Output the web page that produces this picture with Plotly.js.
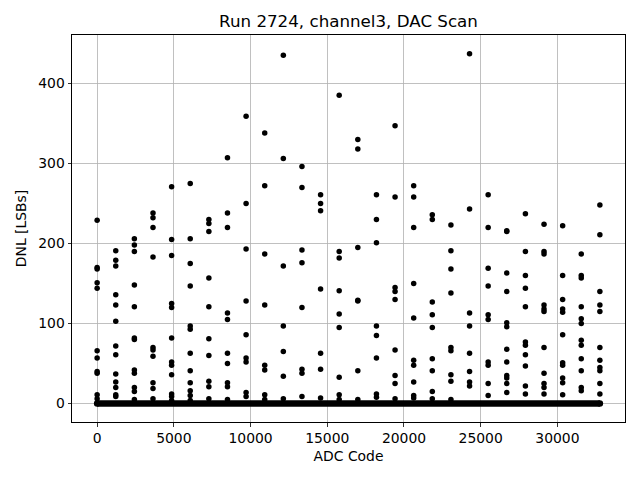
<!DOCTYPE html>
<html>
<head>
<meta charset="utf-8">
<script src="https://cdn.plot.ly/plotly-3.0.1.min.js"></script>
<style>html,body{margin:0;padding:0;background:#fff;}#chart{width:640px;height:480px;}</style>
</head>
<body>
<div id="chart"></div>
<script>
// ADC codes where the DAC scan steps land
const columnCodes = [0, 1214, 2427, 3641, 4855, 6068, 7282, 8495, 9709, 10923, 12136, 13350, 14564, 15777,
  16991, 18205, 19418, 20632, 21845, 23059, 24273, 25486, 26700, 27914, 29127, 30341, 31554, 32767];

// DNL values (LSBs) read at each of those codes
const dnlAtColumn = [
  [229, 170, 168, 151, 144, 66, 57, 40, 38, 11, 6],
  [191, 179, 172, 136, 123, 103, 72, 61, 37, 27, 20, 11, 9],
  [206, 198, 190, 148, 121, 82, 80, 42, 38, 20, 15, 5],
  [238, 232, 220, 183, 70, 67, 59, 26, 19, 6],
  [271, 205, 185, 125, 120, 82, 52, 48, 36, 12, 9, 4],
  [275, 206, 175, 147, 97, 93, 63, 41, 26, 16, 10, 4],
  [230, 225, 215, 157, 121, 81, 60, 28, 21, 6],
  [307, 238, 220, 113, 105, 63, 50, 26, 21, 5],
  [359, 250, 193, 128, 86, 57, 52, 14, 9],
  [338, 272, 187, 123, 48, 42, 11, 5],
  [435, 306, 172, 97, 65, 34, 6],
  [296, 270, 192, 176, 120, 43, 38, 9],
  [261, 250, 241, 143, 63, 43, 7],
  [385, 190, 182, 141, 112, 95, 33, 11, 5],
  [330, 318, 195, 129, 128, 41, 5],
  [261, 230, 201, 97, 85, 57, 12, 8],
  [347, 258, 145, 140, 130, 67, 35, 25, 6],
  [272, 258, 220, 150, 107, 54, 48, 27, 10, 7],
  [236, 230, 127, 111, 95, 56, 41, 15, 6],
  [223, 191, 168, 138, 70, 66, 36, 28, 5],
  [437, 243, 113, 97, 63, 40, 27, 22],
  [261, 220, 169, 147, 111, 105, 52, 48, 25, 10],
  [216, 215, 163, 140, 101, 96, 68, 52, 35, 32, 25, 14],
  [237, 190, 160, 144, 121, 77, 73, 61, 47, 22, 12],
  [224, 190, 187, 123, 118, 115, 70, 38, 25, 20, 12],
  [222, 160, 130, 118, 114, 86, 51, 48, 32, 26, 11],
  [187, 160, 157, 121, 106, 100, 79, 73, 56, 41, 20, 16],
  [248, 211, 140, 123, 115, 70, 54, 45, 41, 25, 12]
];

// All remaining codes sit at DNL = 0 (dense baseline)
const baselineCodes = [0, 32767];
const baselineDnl = [0, 0];

const xTicks = [0, 5000, 10000, 15000, 20000, 25000, 30000];
const yTicks = [0, 100, 200, 300, 400];

const px = [], py = [];
columnCodes.forEach((c, i) => dnlAtColumn[i].forEach(v => { px.push(c); py.push(v); }));

const traces = [
  {x: baselineCodes, y: baselineDnl, type: 'scatter', mode: 'lines+markers',
   line: {color: '#000', width: 6.5}, marker: {color: '#000', size: 6.5}, hoverinfo: 'skip'},
  {x: px, y: py, type: 'scatter', mode: 'markers',
   marker: {color: '#000', size: 5.5}}
];

const font = {family: 'DejaVu Sans', size: 13.9, color: '#000'};
const layout = {
  width: 640, height: 480, showlegend: false,
  paper_bgcolor: '#fff', plot_bgcolor: '#fff',
  margin: {l: 71.7, r: 14.7, t: 35, b: 58.3, pad: 0},
  font: font,
  title: {text: 'Run 2724, channel3, DAC Scan', font: {family: 'DejaVu Sans', size: 16.7, color: '#000'},
          x: 0.5, xanchor: 'center', y: 1 - 21.5 / 480, yanchor: 'middle', xref: 'paper'},
  xaxis: {range: [-1638, 34405], tickvals: xTicks, ticktext: xTicks.map(String),
          showgrid: true, gridcolor: '#b0b0b0', gridwidth: 0.8, zeroline: false,
          showline: true, linecolor: '#000', linewidth: 1, mirror: true,
          ticks: 'outside', ticklen: 3.5, tickwidth: 0.8, tickcolor: '#000',
          tickfont: font, title: {text: 'ADC Code', font: font, standoff: 6}},
  yaxis: {range: [-23, 460.4], tickvals: yTicks, ticktext: yTicks.map(String),
          showgrid: true, gridcolor: '#b0b0b0', gridwidth: 0.8, zeroline: false,
          showline: true, linecolor: '#000', linewidth: 1, mirror: true,
          ticks: 'outside', ticklen: 3.5, tickwidth: 0.8, tickcolor: '#000',
          tickfont: font, title: {text: 'DNL [LSBs]', font: font, standoff: 8}}
};

Plotly.newPlot('chart', traces, layout, {displayModeBar: false, staticPlot: true});
</script>
</body>
</html>
